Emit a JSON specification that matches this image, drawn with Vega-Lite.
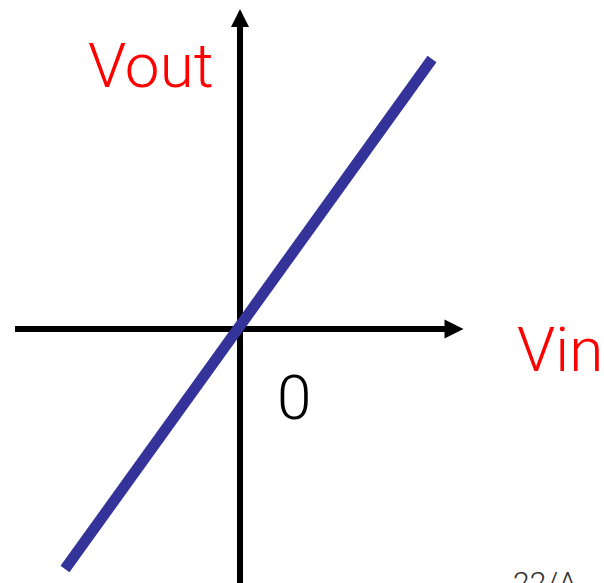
{
  "$schema": "https://vega.github.io/schema/vega-lite/v6.json",
  "width": 604,
  "height": 583,
  "padding": 0,
  "autosize": {"type": "none"},
  "background": "white",
  "config": {"view": {"stroke": null}},
  "layer": [
    {
      "data": {"values": [
        {"axis": "x", "x1": -225, "x2": 206, "y1": 0, "y2": 0},
        {"axis": "y", "x1": 0, "x2": 0, "y1": -260, "y2": 302}
      ]},
      "mark": {"type": "rule", "color": "black", "strokeWidth": 6, "strokeCap": "butt"},
      "encoding": {
        "x": {"field": "x1", "type": "quantitative", "scale": {"domain": [-240, 364], "nice": false, "zero": false}, "axis": null},
        "x2": {"field": "x2"},
        "y": {"field": "y1", "type": "quantitative", "scale": {"domain": [-254, 329], "nice": false, "zero": false}, "axis": null},
        "y2": {"field": "y2"}
      }
    },
    {
      "data": {"values": [{"x": 0, "y": 311}]},
      "mark": {"type": "point", "shape": "M-1,1L1,1L0,-1Z", "filled": true, "color": "black", "opacity": 1, "size": 324},
      "encoding": {
        "x": {"field": "x", "type": "quantitative"},
        "y": {"field": "y", "type": "quantitative"}
      }
    },
    {
      "data": {"values": [{"x": 214, "y": 0}]},
      "mark": {"type": "point", "shape": "M-1,-1L1,0L-1,1Z", "filled": true, "color": "black", "opacity": 1, "size": 361},
      "encoding": {
        "x": {"field": "x", "type": "quantitative"},
        "y": {"field": "y", "type": "quantitative"}
      }
    },
    {
      "data": {"values": [{"vin": -175, "vout": -240}, {"vin": 192, "vout": 270}]},
      "mark": {"type": "line", "color": "#333399", "strokeWidth": 11, "strokeCap": "butt"},
      "encoding": {
        "x": {"field": "vin", "type": "quantitative"},
        "y": {"field": "vout", "type": "quantitative"}
      }
    },
    {
      "data": {"values": [
        {"label": "Vout", "x": -152, "y": 242, "kind": "axis"},
        {"label": "Vin", "x": 277, "y": -42, "kind": "axis"}
      ]},
      "mark": {"type": "text", "align": "left", "baseline": "alphabetic", "font": "Roboto Light, Roboto", "fontWeight": 300, "fontSize": 62, "color": "red"},
      "encoding": {
        "x": {"field": "x", "type": "quantitative"},
        "y": {"field": "y", "type": "quantitative"},
        "text": {"field": "label"}
      }
    },
    {
      "data": {"values": [{"label": "0", "x": 37, "y": -90}]},
      "mark": {"type": "text", "align": "left", "baseline": "alphabetic", "font": "Roboto Light, Roboto", "fontWeight": 300, "fontSize": 62, "color": "black"},
      "encoding": {
        "x": {"field": "x", "type": "quantitative"},
        "y": {"field": "y", "type": "quantitative"},
        "text": {"field": "label"}
      }
    },
    {
      "data": {"values": [{"label": "22/A", "x": 273, "y": -264}]},
      "mark": {"type": "text", "align": "left", "baseline": "alphabetic", "font": "Roboto Light, Roboto", "fontWeight": 300, "fontSize": 30, "color": "#333333"},
      "encoding": {
        "x": {"field": "x", "type": "quantitative"},
        "y": {"field": "y", "type": "quantitative"},
        "text": {"field": "label"}
      }
    }
  ]
}
